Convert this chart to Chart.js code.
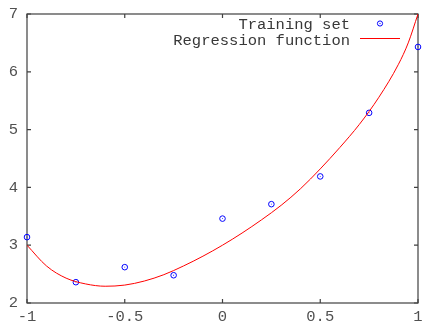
<!DOCTYPE html>
<html>
<head>
<meta charset="utf-8">
<script src="https://cdn.jsdelivr.net/npm/chart.js@4.4.1/dist/chart.umd.min.js"></script>
<style>
  html, body { margin: 0; padding: 0; background: #fff; }
  #wrap { width: 423px; height: 325px; }
</style>
</head>
<body>
<div id="wrap"><canvas id="plot" width="423" height="325"></canvas></div>
<script>
// training samples
const trainX = [-1, -0.75, -0.5, -0.25, 0, 0.25, 0.5, 0.75, 1];
const trainY = [3.14, 2.36, 2.62, 2.48, 3.46, 3.71, 4.19, 5.29, 6.43];

// regression curve, read at steps of 0.1 (plus one extra near the steep end)
const fitX = [-1, -0.9, -0.8, -0.7, -0.6, -0.5, -0.4, -0.3, -0.2, -0.1, 0,
  0.1, 0.2, 0.3, 0.4, 0.5, 0.6, 0.7, 0.8, 0.9, 0.95, 1];
const fitY = [3.0, 2.64, 2.43, 2.33, 2.29, 2.31, 2.38, 2.49, 2.64, 2.81, 3.0,
  3.21, 3.44, 3.69, 3.98, 4.32, 4.69, 5.09, 5.56, 6.13, 6.5, 7.0];

const xTicks = [-1, -0.5, 0, 0.5, 1];
const yTicks = [2, 3, 4, 5, 6, 7];
const legendLabels = ["Training set", "Regression function"];

(function () {
  const FONT = '"Liberation Mono", "DejaVu Sans Mono", monospace';
  const textColor = "#505050";
  const frameColor = "#404040";

  const toPoints = (xs, ys) => xs.map((x, i) => ({ x, y: ys[i] }));

  function fixScale(scale, size) {
    if (scale.isHorizontal()) {
      scale.height = size;
    } else {
      scale.width = size;
    }
    scale.paddingTop = 0;
    scale.paddingBottom = 0;
    scale.paddingLeft = 0;
    scale.paddingRight = 0;
  }

  // box round the plot with inward ticks on all four sides
  const framePlugin = {
    id: "frame",
    beforeDatasetsDraw(chart) {
      const { ctx, chartArea: a, scales } = chart;
      ctx.save();
      ctx.strokeStyle = frameColor;
      ctx.lineWidth = 1.2;
      ctx.strokeRect(a.left, a.top, a.right - a.left, a.bottom - a.top);
      ctx.beginPath();
      xTicks.forEach((v) => {
        const px = scales.x.getPixelForValue(v);
        ctx.moveTo(px, a.bottom);
        ctx.lineTo(px, a.bottom - 4);
        ctx.moveTo(px, a.top);
        ctx.lineTo(px, a.top + 4);
      });
      yTicks.forEach((v) => {
        const py = scales.y.getPixelForValue(v);
        ctx.moveTo(a.left, py);
        ctx.lineTo(a.left + 4, py);
        ctx.moveTo(a.right, py);
        ctx.lineTo(a.right - 4, py);
      });
      ctx.stroke();
      ctx.restore();
    },
  };

  // gnuplot style key: label right aligned, sample to the right of it
  const keyPlugin = {
    id: "key",
    afterDraw(chart) {
      const { ctx } = chart;
      ctx.save();
      ctx.font = "15.5px " + FONT;
      ctx.fillStyle = "#383838";
      ctx.textAlign = "right";
      ctx.textBaseline = "middle";
      ctx.fillText(legendLabels[0], 350, 25);
      ctx.fillText(legendLabels[1], 350, 41);

      ctx.strokeStyle = "#0000ff";
      ctx.lineWidth = 1;
      ctx.beginPath();
      ctx.arc(380, 23.5, 2.6, 0, Math.PI * 2);
      ctx.stroke();
      ctx.fillStyle = "#0000ff";
      ctx.fillRect(379.5, 23, 1, 1);

      ctx.strokeStyle = "#ff0000";
      ctx.beginPath();
      ctx.moveTo(360, 38.5);
      ctx.lineTo(400, 38.5);
      ctx.stroke();
      ctx.restore();
    },
  };

  new Chart(document.querySelector("#plot"), {
    type: "scatter",
    data: {
      datasets: [
        {
          label: legendLabels[1],
          data: toPoints(fitX, fitY),
          showLine: true,
          borderColor: "#ff0000",
          borderWidth: 1,
          pointRadius: 0,
          cubicInterpolationMode: "monotone",
          fill: false,
        },
        {
          label: legendLabels[0],
          data: toPoints(trainX, trainY),
          pointStyle: "circle",
          pointRadius: 2.8,
          borderColor: "#0000ff",
          backgroundColor: "rgba(0,0,0,0)",
          borderWidth: 1,
          clip: false,
        },
        {
          label: "centre",
          data: toPoints(trainX, trainY),
          pointStyle: "rect",
          pointRadius: 0.6,
          borderWidth: 0,
          backgroundColor: "#0000ff",
          clip: false,
        },
      ],
    },
    options: {
      responsive: false,
      animation: false,
      layout: { padding: { top: 14, right: 5, left: 0, bottom: 0 } },
      scales: {
        x: {
          type: "linear",
          min: -1,
          max: 1,
          afterFit: (scale) => fixScale(scale, 22),
          afterBuildTicks: (scale) => {
            scale.ticks = xTicks.map((value) => ({ value }));
          },
          grid: { display: false, drawTicks: false },
          border: { display: false },
          ticks: {
            color: textColor,
            font: { family: FONT, size: 15.5 },
            padding: 5,
            maxRotation: 0,
            autoSkip: false,
            callback: (value) => String(value),
          },
        },
        y: {
          type: "linear",
          min: 2,
          max: 7,
          afterFit: (scale) => fixScale(scale, 27),
          afterBuildTicks: (scale) => {
            scale.ticks = yTicks.map((value) => ({ value }));
          },
          grid: { display: false, drawTicks: false },
          border: { display: false },
          ticks: {
            color: textColor,
            font: { family: FONT, size: 15.5 },
            padding: 9,
            autoSkip: false,
            callback: (value) => String(value),
          },
        },
      },
      plugins: {
        legend: { display: false },
        tooltip: { enabled: false },
      },
    },
    plugins: [framePlugin, keyPlugin],
  });
})();
</script>
</body>
</html>
